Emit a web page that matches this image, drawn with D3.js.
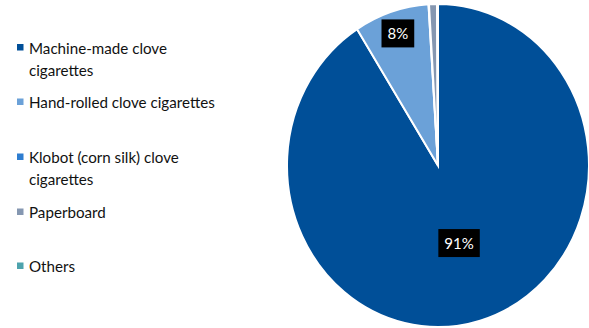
<!DOCTYPE html>
<html><head><meta charset="utf-8">
<script src="https://cdn.jsdelivr.net/npm/d3@7"></script>
<style>html,body{margin:0;padding:0;background:#fff;}svg{display:block;}</style>
</head><body>
<svg id="chart" width="589" height="328"></svg>
<script>
const categories = ["Machine-made clove cigarettes","Hand-rolled clove cigarettes","Klobot (corn silk) clove cigarettes","Paperboard","Others"];
const legendLines = [["Machine-made clove","cigarettes"],["Hand-rolled clove cigarettes"],["Klobot (corn silk) clove","cigarettes"],["Paperboard"],["Others"]];
const values = [91.0, 8.0, 0.05, 0.85, 0.1];
const labels = ["91%","8%","","",""];
const colors = ["#004f98","#6ba1d8","#2e7dd0","#8597b1","#4da3ad"];

const svg = d3.select("#chart");
const cx = 438, cy = 165.5, rx = 151, ry = 161.5;
const g = svg.append("g").attr("transform",`translate(${cx},${cy}) scale(1,${ry/rx})`);
const pie = d3.pie().sort(null).value(d=>d)(values);
const arc = d3.arc().innerRadius(0).outerRadius(rx);
g.selectAll("path").data(pie).join("path")
  .attr("d",arc).attr("fill",(d,i)=>colors[i])
  .attr("stroke","#fff").attr("stroke-width",2).attr("vector-effect","non-scaling-stroke");

// data labels
const labelFactor = [0.5, 0.86, 0.8, 0.8, 0.8];
const font = "Lato, 'Open Sans', sans-serif";
pie.forEach((d,i)=>{
  if(!labels[i]) return;
  const a = (d.startAngle+d.endAngle)/2;
  const r = rx*labelFactor[i];
  const x = cx + Math.sin(a)*r, y = cy - Math.cos(a)*r*(ry/rx);
  const lg = svg.append("g");
  const t = lg.append("text").attr("x",x).attr("y",y).attr("text-anchor","middle")
    .attr("dominant-baseline","central").attr("fill","#fff")
    .style("font-family",font).style("font-size","15px").text(labels[i]);
  const w = t.node().getComputedTextLength();
  lg.insert("rect","text").attr("x",x-w/2-6).attr("y",y-14).attr("width",w+12).attr("height",28).attr("fill","#000");
});

// legend
const itemY = [47.5, 102, 157, 212, 266];
const lineH = 22;
const leg = svg.append("g");
legendLines.forEach((lines,i)=>{
  leg.append("rect").attr("x",17).attr("y",itemY[i]-3.5).attr("width",6.5).attr("height",6.5).attr("fill",colors[i]);
  lines.forEach((ln,j)=>{
    leg.append("text").attr("class","lt").attr("x",29).attr("y",itemY[i]+j*lineH)
      .attr("dominant-baseline","central").attr("fill","#111")
      .style("font-family",font).style("font-size","15px").text(ln);
  });
});
// fit legend font to reference width of "Hand-rolled clove cigarettes" (~186px)
const ref = leg.selectAll("text.lt").filter(function(){return this.textContent==="Hand-rolled clove cigarettes";}).node();
const wRef = ref.getComputedTextLength();
const fs = 15*186/wRef;
leg.selectAll("text.lt").style("font-size",fs+"px");
</script>
</body></html>
